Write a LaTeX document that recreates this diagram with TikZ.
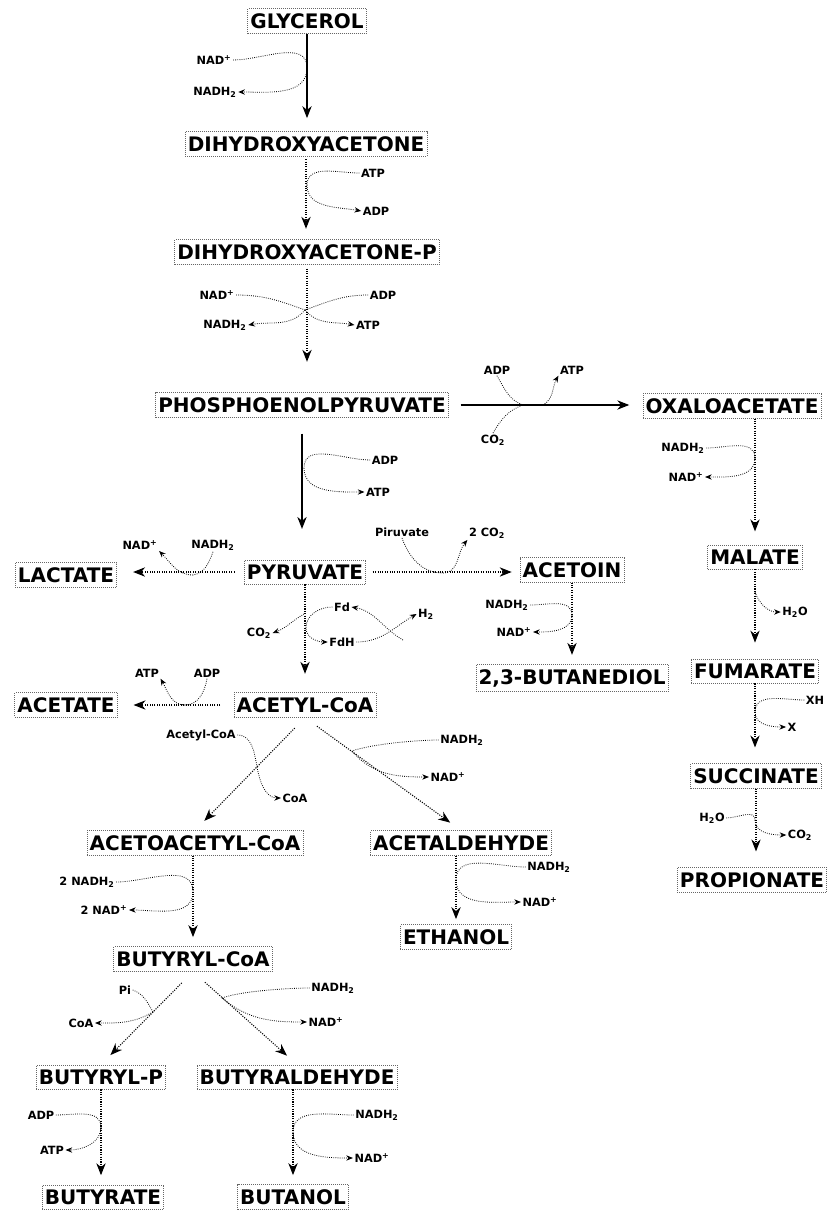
\documentclass[tikz,border=0pt]{standalone}
\usepackage{fontspec}
\setmainfont{DejaVu Sans}
\usetikzlibrary{arrows.meta}
\tikzset{
 cmp/.style={draw=black!60, densely dotted, line width=0.5pt, font=\fontsize{15}{18}\selectfont\bfseries, inner xsep=2pt, inner ysep=3.5pt, text=black},
 lab/.style={font=\fontsize{8.5}{10}\selectfont\bfseries, inner sep=1pt},
 mainsolid/.style={line width=0.8pt, -{Stealth[length=9pt,width=7pt]}},
 maindot/.style={line width=0.8pt, densely dotted, -{Stealth[length=9pt,width=7pt]}},
 sub/.style={line width=0.6pt, densely dotted},
 subarr/.style={sub, -{Stealth[length=5pt,width=4pt]}},
}
\begin{document}
\begin{tikzpicture}[x=0.75pt,y=-0.75pt]
\fill[white] (0,0) rectangle (831,1213);
\useasboundingbox (0,0) rectangle (831,1213);
% compounds
\node[cmp] (gly) at (307,21) {GLYCEROL};
\node[cmp] (dha) at (306,144) {DIHYDROXYACETONE};
\node[cmp] (dhap) at (307,252) {DIHYDROXYACETONE-P};
\node[cmp] (pep) at (302,405) {PHOSPHOENOLPYRUVATE};
\node[cmp] (oaa) at (732,406) {OXALOACETATE};
\node[cmp] (mal) at (755,557) {MALATE};
\node[cmp] (fum) at (755,671) {FUMARATE};
\node[cmp] (suc) at (756,776) {SUCCINATE};
\node[cmp] (pro) at (752,880) {PROPIONATE};
\node[cmp] (pyr) at (305,572) {PYRUVATE};
\node[cmp] (lac) at (66,575) {LACTATE};
\node[cmp] (acn) at (572,570) {ACETOIN};
\node[cmp] (btd) at (572,678) {2,3-BUTANEDIOL};
\node[cmp] (acc) at (305,705) {ACETYL-CoA};
\node[cmp] (act) at (66,705) {ACETATE};
\node[cmp] (aac) at (195,843) {ACETOACETYL-CoA};
\node[cmp] (ald) at (461,843) {ACETALDEHYDE};
\node[cmp] (eth) at (456,937) {ETHANOL};
\node[cmp] (bcoa) at (193,959) {BUTYRYL-CoA};
\node[cmp] (bp) at (101,1077) {BUTYRYL-P};
\node[cmp] (bald) at (297,1077) {BUTYRALDEHYDE};
\node[cmp] (but) at (103,1197) {BUTYRATE};
\node[cmp] (bol) at (293,1197) {BUTANOL};
% cofactor labels
\node[lab] (nad1) at (214,60) {NAD\textsuperscript{+}};
\node[lab] (nadh1) at (215,92) {NADH\textsubscript{2}};
\node[lab] (atp1) at (373,173) {ATP};
\node[lab] (adp1) at (376,211) {ADP};
\node[lab] (nad2) at (217,295) {NAD\textsuperscript{+}};
\node[lab] (adp2) at (383,295) {ADP};
\node[lab] (nadh2) at (225,325) {NADH\textsubscript{2}};
\node[lab] (atp2) at (368,325) {ATP};
\node[lab] (adp3) at (497,370) {ADP};
\node[lab] (co2a) at (493,440) {CO\textsubscript{2}};
\node[lab] (atp3) at (572,370) {ATP};
\node[lab] (adp4) at (385,460) {ADP};
\node[lab] (atp4) at (378,492) {ATP};
\node[lab] (nadh3) at (683,448) {NADH\textsubscript{2}};
\node[lab] (nad3) at (686,477) {NAD\textsuperscript{+}};
\node[lab] (h2oa) at (795,612) {H\textsubscript{2}O};
\node[lab] (xh) at (815,700) {XH};
\node[lab] (x) at (792,727) {X};
\node[lab] (h2ob) at (712,818) {H\textsubscript{2}O};
\node[lab] (co2d) at (800,835) {CO\textsubscript{2}};
\node[lab] (nad4) at (140,545) {NAD\textsuperscript{+}};
\node[lab] (nadh4) at (213,545) {NADH\textsubscript{2}};
\node[lab] (piru) at (402,532) {Piruvate};
\node[lab] (co2b) at (487,533) {2 CO\textsubscript{2}};
\node[lab] (nadh5) at (507,605) {NADH\textsubscript{2}};
\node[lab] (nad5) at (514,632) {NAD\textsuperscript{+}};
\node[lab] (fd) at (342,607) {Fd};
\node[lab] (fdh) at (342,642) {FdH};
\node[lab] (co2c) at (259,633) {CO\textsubscript{2}};
\node[lab] (h2) at (426,614) {H\textsubscript{2}};
\node[lab] (atp5) at (147,673) {ATP};
\node[lab] (adp5) at (207,673) {ADP};
\node[lab] (accl) at (201,735) {Acetyl-CoA};
\node[lab] (coa1) at (295,798) {CoA};
\node[lab] (nadh6) at (462,740) {NADH\textsubscript{2}};
\node[lab] (nad6) at (448,777) {NAD\textsuperscript{+}};
\node[lab] (nadh7) at (549,867) {NADH\textsubscript{2}};
\node[lab] (nad7) at (540,902) {NAD\textsuperscript{+}};
\node[lab] (nadh8) at (87,882) {2 NADH\textsubscript{2}};
\node[lab] (nad8) at (104,910) {2 NAD\textsuperscript{+}};
\node[lab] (pi) at (125,990) {Pi};
\node[lab] (coa2) at (81,1023) {CoA};
\node[lab] (nadh9) at (333,988) {NADH\textsubscript{2}};
\node[lab] (nad9) at (326,1022) {NAD\textsuperscript{+}};
\node[lab] (adp6) at (41,1115) {ADP};
\node[lab] (atp6) at (52,1150) {ATP};
\node[lab] (nadh10) at (377,1115) {NADH\textsubscript{2}};
\node[lab] (nad10) at (372,1158) {NAD\textsuperscript{+}};
% junction points
\coordinate (j0) at (307,68);
\coordinate (j3) at (307,185);
\coordinate (jx) at (305,310);
\coordinate (j1) at (523,405);
\coordinate (j1b) at (543,405);
\coordinate (j2) at (304,468);
\coordinate (j4) at (755,458);
\coordinate (j5) at (755,592);
\coordinate (j6) at (755,712);
\coordinate (j7) at (755,820);
\coordinate (j8) at (193,575);
\coordinate (j9) at (443,573);
\coordinate (j10) at (572,615);
\coordinate (j11) at (306,628);
\coordinate (j12) at (304,614);
\coordinate (j13) at (403,640);
\coordinate (j14) at (185,705);
\coordinate (j15) at (257,767);
\coordinate (j16) at (352,751);
\coordinate (j17) at (456,880);
\coordinate (j18) at (193,892);
\coordinate (j19) at (153,1012);
\coordinate (j20) at (222,998);
\coordinate (j21) at (101,1127);
\coordinate (j22) at (293,1132);
% main pathway
\draw[mainsolid, shorten >=10pt] (gly.south) -- (gly.south |- dha.north);
\draw[sub] (nad1.east) to[out=0,in=90] (j0);
\draw[subarr] (j0) to[out=-90,in=0] (nadh1.east);
\draw[maindot, shorten <=2pt, shorten >=8pt] (dha.south) -- (dha.south |- dhap.north);
\draw[sub] (atp1.west) to[out=180,in=90] (j3);
\draw[subarr] (j3) to[out=-90,in=170] (adp1.west);
\draw[maindot, shorten <=3pt, shorten >=23pt] (dhap.south) -- (dhap.south |- pep.north);
\draw[sub] (nad2.east) to[out=0,in=160] (jx);
\draw[sub] (adp2.west) to[out=180,in=20] (jx);
\draw[subarr] (jx) to[out=-130,in=10] (nadh2.east);
\draw[subarr] (jx) to[out=-50,in=170] (atp2.west);
% PEP -> oxaloacetate
\draw[mainsolid, shorten <=9pt, shorten >=10pt] (pep.east) -- (pep.east -| oaa.west);
\draw[sub] (adp3.south) to[out=-60,in=160] (j1);
\draw[sub] (co2a.north) to[out=60,in=200] (j1);
\draw[subarr] (j1b) to[out=30,in=-120] (atp3.south west);
% PEP -> pyruvate
\draw[mainsolid, shorten <=12pt, shorten >=23pt] (pep.south) -- (pep.south |- pyr.north);
\draw[sub] (adp4.west) to[out=180,in=90] (j2);
\draw[subarr] (j2) to[out=-90,in=180] (atp4.west);
% oxaloacetate -> propionate
\draw[maindot, shorten >=10pt] (mal.north |- oaa.south) -- (mal.north);
\draw[sub] (nadh3.east) to[out=0,in=90] (j4);
\draw[subarr] (j4) to[out=-90,in=0] (nad3.east);
\draw[maindot, shorten >=12pt] (mal.south) -- (mal.south |- fum.north);
\draw[subarr] (j5) to[out=-70,in=180] (h2oa.west);
\draw[maindot, shorten >=12pt] (fum.south) -- (fum.south |- suc.north);
\draw[sub] (xh.west) to[out=180,in=90] (j6);
\draw[subarr] (j6) to[out=-90,in=180] (x.west);
\draw[maindot, shorten >=12pt] (suc.south) -- (suc.south |- pro.north);
\draw[sub] (h2ob.east) to[out=0,in=90] (j7);
\draw[subarr] (j7) to[out=-90,in=180] (co2d.west);
% pyruvate -> lactate
\draw[maindot, shorten <=7pt, shorten >=12pt] (pyr.west) -- (pyr.west -| lac.east);
\draw[sub] (nadh4.south) to[out=-110,in=10] (j8);
\draw[subarr] (j8) to[out=180,in=-45] (nad4.south east);
% pyruvate -> acetoin -> butanediol
\draw[maindot, shorten <=5pt, shorten >=6pt] (pyr.east) -- (pyr.east -| acn.west);
\draw[sub] (piru.south) to[out=-70,in=180] (j9);
\draw[subarr] (j9) to[out=0,in=-130] (co2b.south west);
\draw[maindot, shorten >=7pt] (acn.south) -- (btd.north);
\draw[sub] (nadh5.east) to[out=0,in=90] (j10);
\draw[subarr] (j10) to[out=-90,in=0] (nad5.east);
% pyruvate -> acetyl-CoA
\draw[maindot, shorten >=14pt] (pyr.south) -- (pyr.south |- acc.north);
\draw[subarr] (fd.west) to[out=180,in=90] (j11) to[out=-90,in=180] (fdh.west);
\draw[subarr] (j12) to[out=-150,in=20] (co2c.east);
\draw[subarr] (fdh.east) to[out=0,in=-150] (h2.west);
\draw[subarr] (j13) to[out=150,in=-10] (fd.east);
% acetyl-CoA -> acetate
\draw[maindot, shorten <=10pt, shorten >=12pt] (acc.west) -- (acc.west -| act.east);
\draw[sub] (adp5.south) to[out=-100,in=0] (j14);
\draw[subarr] (j14) to[out=180,in=-60] (atp5.south east);
% acetyl-CoA -> acetoacetyl-CoA
\draw[maindot, shorten <=11pt, shorten >=10pt] (acc.south) -- (aac.north);
\draw[sub] (accl.east) to[out=0,in=100] (j15);
\draw[subarr] (j15) to[out=-80,in=180] (coa1.west);
% acetyl-CoA -> acetaldehyde -> ethanol
\draw[maindot, shorten <=11pt, shorten >=10pt] (acc.south) -- (ald.north);
\draw[sub] (nadh6.west) to[out=180,in=20,looseness=0.6] (j16);
\draw[subarr] (j16) to[out=-50,in=180] (nad6.west);
\draw[maindot, shorten >=4pt] (eth.north |- ald.south) -- (eth.north);
\draw[sub] (nadh7.west) to[out=180,in=90] (j17);
\draw[subarr] (j17) to[out=-90,in=180] (nad7.west);
% acetoacetyl-CoA -> butyryl-CoA
\draw[maindot, shorten >=7pt] (bcoa.north |- aac.south) -- (bcoa.north);
\draw[sub] (nadh8.east) to[out=0,in=90] (j18);
\draw[subarr] (j18) to[out=-90,in=0] (nad8.east);
% butyryl-CoA -> butyryl-P -> butyrate
\draw[maindot, shorten <=12pt, shorten >=10pt] (bcoa.south) -- (bp.north);
\draw[sub] (pi.east) to[out=-20,in=120] (j19);
\draw[subarr] (j19) to[out=-150,in=0] (coa2.east);
\draw[maindot, shorten >=7pt] (bp.south) -- (bp.south |- but.north);
\draw[sub] (adp6.east) to[out=0,in=90] (j21);
\draw[subarr] (j21) to[out=-90,in=0] (atp6.east);
% butyryl-CoA -> butyraldehyde -> butanol
\draw[maindot, shorten <=12pt, shorten >=10pt] (bcoa.south) -- (bald.north);
\draw[sub] (nadh9.west) to[out=180,in=20,looseness=0.6] (j20);
\draw[subarr] (j20) to[out=-40,in=180] (nad9.west);
\draw[maindot, shorten >=7pt] (bol.north |- bald.south) -- (bol.north);
\draw[sub] (nadh10.west) to[out=180,in=90] (j22);
\draw[subarr] (j22) to[out=-90,in=180] (nad10.west);
\end{tikzpicture}
\end{document}
